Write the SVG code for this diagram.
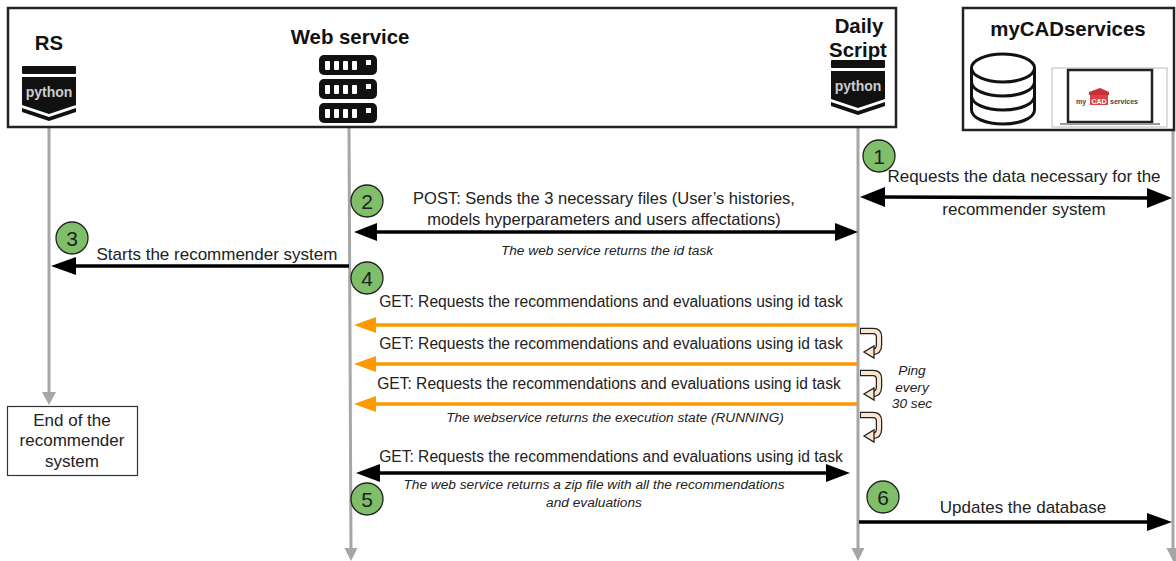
<svg xmlns="http://www.w3.org/2000/svg" width="1176" height="561" viewBox="0 0 1176 561">
<style>
text{font-family:"Liberation Sans",Arial,sans-serif;fill:#222;text-anchor:middle}
.t{font-size:17px}
.g{font-size:15.600px}
.p{font-size:16.500px}
.h{font-size:20.400px;font-weight:bold;fill:#111}
.i{font-size:13.700px;font-style:italic}
.n{font-size:21px}
.py{font-size:14px;font-weight:bold;fill:#ccc}
.life{stroke:#a6a6a6;stroke-width:3;fill:none}
.blk{stroke:#000;stroke-width:3.500;fill:none}
.org{stroke:#ff9900;stroke-width:3.500;fill:none}
.box{fill:#fff;stroke:#222;stroke-width:2.500}
.badge{fill:#7fbf6a;stroke:#222;stroke-width:1.300}
.loop{fill:none;stroke:#222;stroke-width:6.500}
.loop2{fill:none;stroke:#fce5cd;stroke-width:4}
.lh{fill:#fce5cd;stroke:#222;stroke-width:1.300}
</style>
<defs>
<g id="pyicon">
<rect x="0" y="0" width="54" height="8" rx="1" fill="#111"/>
<path d="M0 11H54V39L27 48L0 39Z" fill="#111"/>
<path d="M0 42L27 51L54 42V46L27 55L0 46Z" fill="#111"/>
<text x="27" y="31" class="py">python</text>
</g>
<g id="srv">
<rect x="0" y="0" width="58" height="20" rx="5" fill="#111"/>
<rect x="6" y="6" width="5" height="9" rx="1" fill="#fff"/><rect x="15" y="6" width="5" height="9" rx="1" fill="#fff"/><rect x="24" y="6" width="5" height="9" rx="1" fill="#fff"/><rect x="33" y="6" width="5" height="9" rx="1" fill="#fff"/>
<rect x="47" y="5" width="5" height="5" fill="#fff"/>
</g>
<g id="lp">
<path class="loop" d="M860 331H873Q879 331 879 337V345Q879 352 872 352H870"/>
<path class="loop2" d="M861 331H873Q879 331 879 337V345Q879 352 872 352H870"/>
<path class="lh" d="M874 346V358L864 352Z"/>
</g>
</defs>
<rect width="1176" height="561" fill="#fff"/>

<g id="connectors">
<g id="lifelines">
<path class="life" d="M49 128V394"/><path fill="#a6a6a6" d="M42 392H56L49 405Z"/>
<path class="life" d="M349 128L351 550"/><path fill="#a6a6a6" d="M344.500 548H357.500L351 561Z"/>
<path class="life" d="M858 128V550"/><path fill="#a6a6a6" d="M851.500 548H864.500L858 561Z"/>
<path class="life" d="M1173 128V550"/><path fill="#a6a6a6" d="M1166.500 548H1176V561H1173Z"/>
</g>
<g id="messages">
<path class="blk" d="M880 197L1152 198"/><path d="M860 197L885 187V207Z"/><path d="M1172 198L1147 188V208Z"/>
<path class="blk" d="M372 232H840"/><path d="M354 232L377 223V241Z"/><path d="M858 232L835 223V241Z"/>
<path class="blk" d="M70 266H349"/><path d="M51 266L76 257V275Z"/>
<path class="org" d="M371 325H858"/><path fill="#ff9900" d="M354 325L376 317V333Z"/>
<path class="org" d="M371 364H858"/><path fill="#ff9900" d="M354 364L376 356V372Z"/>
<path class="org" d="M371 404H858"/><path fill="#ff9900" d="M354 404L376 396V412Z"/>
<path class="blk" d="M372 473H835"/><path d="M356 473L380 464V482Z"/><path d="M850 473L826 464V482Z"/>
<path class="blk" d="M859 522H1152"/><path d="M1172 522L1147 513V531Z"/>
</g>
<g id="loops">
<use href="#lp"/>
<use href="#lp" transform="translate(0 42)"/>
<use href="#lp" transform="translate(0 84)"/>
</g>
</g>

<g id="node-main">
<rect class="box" x="8" y="8" width="888" height="119"/>
</g>
<g id="node-rs">
<text x="49" y="50" class="h">RS</text>
<use href="#pyicon" x="22" y="66"/>
</g>
<g id="node-web">
<text x="350" y="44" class="h">Web service</text>
<use href="#srv" x="319" y="55"/>
<use href="#srv" x="319" y="79"/>
<use href="#srv" x="319" y="103"/>
</g>
<g id="node-daily">
<text x="859" y="33" class="h">Daily</text>
<text x="858" y="57" class="h">Script</text>
<use href="#pyicon" x="831" y="60"/>
</g>
<g id="node-mycad">
<rect class="box" x="963" y="8" width="211" height="122"/>
<text x="1068" y="36" class="h">myCADservices</text>
<g fill="none" stroke="#111" stroke-width="3">
<ellipse cx="1003" cy="68" rx="31.500" ry="14"/>
<path d="M971.500 68V110C971.500 118 986 124 1003 124S1034.500 118 1034.500 110V68"/>
<path d="M971.500 82C971.500 90 986 96 1003 96S1034.500 90 1034.500 82"/>
<path d="M971.500 96C971.500 104 986 110 1003 110S1034.500 104 1034.500 96"/>
</g>
<rect x="1052" y="68" width="115" height="59" fill="#fff" stroke="#bbb"/>
<rect x="1068" y="70" width="84" height="52" fill="#fff" stroke="#222" stroke-width="2.500"/>
<rect x="1060" y="123" width="100" height="2" fill="#999"/>
<path d="M1089 92L1100 88L1109 92V95H1089Z" fill="#c8303a"/>
<rect x="1090" y="95" width="18" height="10" fill="#d9434b"/>
<text x="1081" y="104" font-size="7" font-weight="bold" style="fill:#444">my</text>
<text x="1099" y="104" font-size="7" font-weight="bold" style="fill:#fff">CAD</text>
<text x="1124" y="104" font-size="7" font-weight="bold" style="fill:#444">services</text>
</g>
<g id="node-end">
<rect x="7.500" y="406.500" width="130" height="69" fill="#fff" stroke="#333" stroke-width="1.200"/>
<text x="72" y="426" class="t">End of the</text>
<text x="72" y="446" class="t">recommender</text>
<text x="72" y="467" class="t">system</text>
</g>

<g id="labels">
<text x="1024" y="182" class="t">Requests the data necessary for the</text>
<text x="1024" y="215" class="t">recommender system</text>
<text x="604" y="204" class="p">POST: Sends the 3 necessary files (User’s histories,</text>
<text x="604" y="225" class="p">models hyperparameters and users affectations)</text>
<text x="607" y="255" class="i">The web service returns the id task</text>
<text x="217" y="260" class="t">Starts the recommender system</text>
<text x="611" y="307" class="g">GET: Requests the recommendations and evaluations using id task</text>
<text x="611" y="349" class="g">GET: Requests the recommendations and evaluations using id task</text>
<text x="609" y="389" class="g">GET: Requests the recommendations and evaluations using id task</text>
<text x="615" y="422" class="i">The webservice returns the execution state (RUNNING)</text>
<text x="912" y="375" class="i">Ping</text>
<text x="912" y="392" class="i">every</text>
<text x="912" y="408" class="i">30 sec</text>
<text x="611" y="462" class="g">GET: Requests the recommendations and evaluations using id task</text>
<text x="594" y="489" class="i">The web service returns a zip file with all the recommendations</text>
<text x="594" y="507" class="i">and evaluations</text>
<text x="1023" y="513" class="t">Updates the database</text>
</g>

<g id="badges">
<g id="badge-1"><circle class="badge" cx="879" cy="156" r="16"/><text x="879" y="163.500" class="n">1</text></g>
<g id="badge-2"><circle class="badge" cx="367" cy="201" r="16"/><text x="367" y="208.500" class="n">2</text></g>
<g id="badge-3"><circle class="badge" cx="72" cy="238" r="16"/><text x="72" y="245.500" class="n">3</text></g>
<g id="badge-4"><circle class="badge" cx="367" cy="278" r="16"/><text x="367" y="285.500" class="n">4</text></g>
<g id="badge-5"><circle class="badge" cx="367" cy="499" r="16"/><text x="367" y="506.500" class="n">5</text></g>
<g id="badge-6"><circle class="badge" cx="883" cy="497" r="16"/><text x="883" y="504.500" class="n">6</text></g>
</g>
</svg>
